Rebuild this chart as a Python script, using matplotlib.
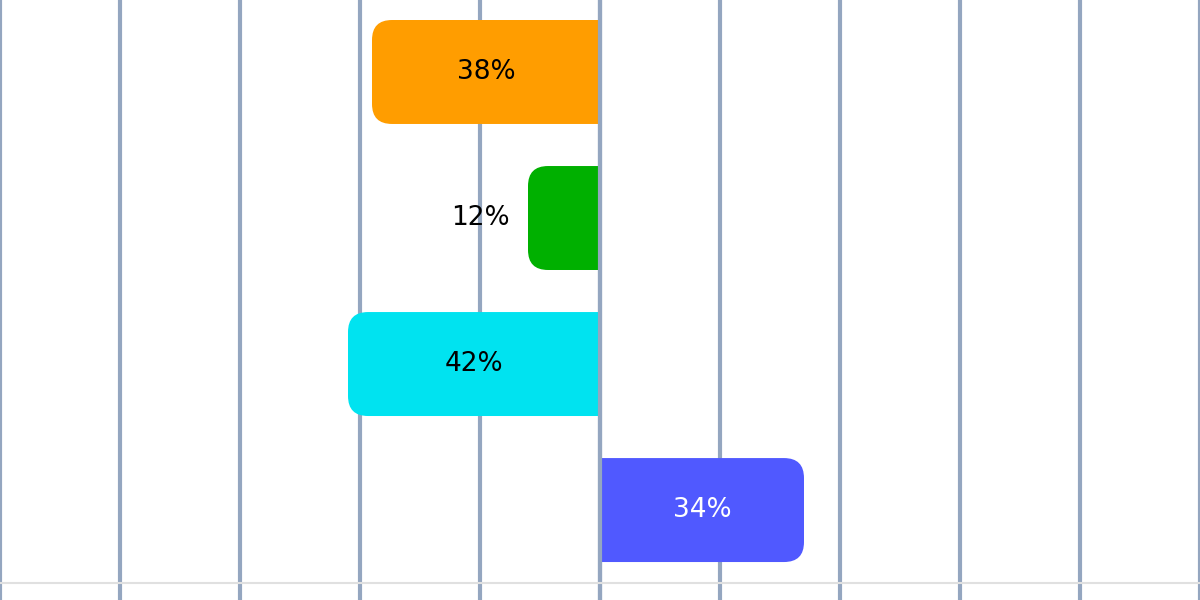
import matplotlib
matplotlib.use("Agg")
import matplotlib.pyplot as plt
from matplotlib.path import Path
from matplotlib.patches import PathPatch

categories = ["A", "B", "C", "D"]
values = [-38, -12, -42, 34]
labels = ["38%", "12%", "42%", "34%"]
colors = ["#FF9D00", "#00B000", "#00E3F0", "#5059FF"]
label_colors = ["black", "black", "black", "white"]
label_inside = [True, False, True, True]

fig = plt.figure(figsize=(12, 6), dpi=100)
ax = fig.add_axes([0, 0, 1, 1])
ax.set_xlim(-100, 100)
ax.set_ylim(3.616, -0.493)

bar_h = 0.712
rx = 3.33   # rounding radius in x data units (~20 px)
ry = 0.137  # rounding radius in y data units (~20 px)

for i, (v, c) in enumerate(zip(values, colors)):
    s = 1 if v > 0 else -1
    ya, yb = i - bar_h / 2, i + bar_h / 2
    verts = [(0, ya), (v - s * rx, ya), (v, ya), (v, ya + ry),
             (v, yb - ry), (v, yb), (v - s * rx, yb), (0, yb), (0, ya)]
    codes = [Path.MOVETO, Path.LINETO, Path.CURVE3, Path.CURVE3,
             Path.LINETO, Path.CURVE3, Path.CURVE3, Path.LINETO, Path.CLOSEPOLY]
    ax.add_patch(PathPatch(Path(verts, codes), facecolor=c, edgecolor="none", zorder=2))
    if label_inside[i]:
        ax.text(v / 2, i, labels[i], ha="center", va="center", fontsize=19,
                color=label_colors[i], zorder=5)
    else:
        ax.text(v + s * 3, i, labels[i], ha="right" if s < 0 else "left",
                va="center", fontsize=19, color=label_colors[i], zorder=5)

ax.set_xticks(range(-100, 101, 20))
ax.set_yticks([])
ax.grid(True, axis="x", color="#94A6C0", linewidth=3, zorder=1)
ax.set_axisbelow(True)
ax.axvline(0, color="#94A6C0", linewidth=3, zorder=3)
ax.axhline(3.5, color="#E0E0E0", linewidth=1.5, zorder=4)
ax.tick_params(length=0, labelbottom=False, labelleft=False)
for sp in ax.spines.values():
    sp.set_visible(False)

fig.savefig("out.png", dpi=100)
